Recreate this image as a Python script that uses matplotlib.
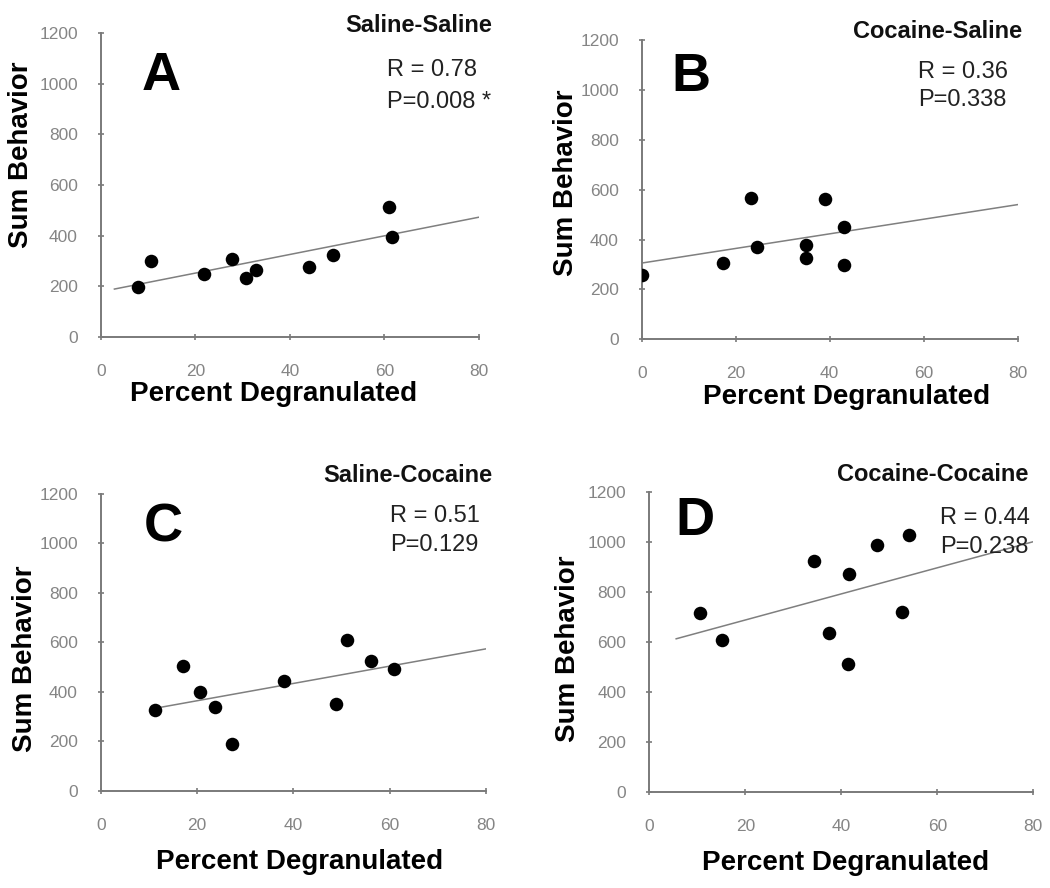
import numpy as np
import matplotlib
matplotlib.use("Agg")
import matplotlib.pyplot as plt

plt.rcParams['font.family'] = ['Liberation Sans', 'DejaVu Sans']

# ---- data ----
panel_letters = ["A", "B", "C", "D"]
conditions = ["Saline-Saline", "Cocaine-Saline", "Saline-Cocaine", "Cocaine-Cocaine"]
r_texts = ["R = 0.78", "R = 0.36", "R = 0.51", "R = 0.44"]
p_texts = ["P=0.008 *", "P=0.338", "P=0.129", "P=0.238"]

x_A = [7.8, 10.6, 21.8, 27.7, 30.7, 32.8, 44.1, 49.1, 61.0, 61.7]
y_A = [198, 299, 248, 307, 233, 265, 277, 323, 512, 396]

x_B = [0.1, 17.2, 23.2, 24.6, 34.9, 34.9, 39.0, 43.1, 43.1]
y_B = [257, 307, 568, 369, 378, 327, 561, 449, 297]

x_C = [11.3, 17.0, 20.6, 23.7, 27.2, 38.0, 48.9, 51.1, 56.1, 60.8]
y_C = [326, 504, 400, 338, 189, 445, 351, 608, 526, 492]

x_D = [10.6, 15.2, 34.3, 37.5, 41.5, 41.3, 47.5, 52.7, 54.0]
y_D = [714, 608, 922, 635, 871, 514, 986, 718, 1028]

# x-range of the fitted trend line in each panel
fit_start = [2.9, 0.0, 11.4, 5.6]
fit_end = [80, 80, 80, 80]

xticks = [0, 20, 40, 60, 80]
yticks = [0, 200, 400, 600, 800, 1000, 1200]

# ---- layout ----
W, H = 1050, 888
fig = plt.figure(figsize=(W / 100, H / 100), dpi=100)

# axes boxes in pixels: left, top, right, bottom
boxes = [(100.7, 33.3, 479.0, 336.7),
         (641.7, 40.0, 1017.7, 339.3),
         (100.7, 494.0, 486.0, 790.7),
         (649.3, 491.7, 1033.3, 792.3)]
xlabel_pos = [(0.458, -0.188), (0.545, -0.194), (0.517, -0.239), (0.51, -0.234)]
ylabel_pos = [(-0.211, 0.599), (-0.202, 0.524), (-0.196, 0.446), (-0.213, 0.479)]
cond_pos = [(1.034, 1.027), (1.011, 1.028), (1.017, 1.064), (0.987, 1.056)]
letter_pos = [(0.109, 0.859), (0.080, 0.877), (0.111, 0.887), (0.067, 0.903)]
rp_pos = [(0.757, 0.879, 0.775), (0.736, 0.894, 0.80), (0.751, 0.926, 0.828), (0.757, 0.911, 0.817)]

xs = [x_A, x_B, x_C, x_D]
ys = [y_A, y_B, y_C, y_D]

spine_col = "#7a7a7a"
tick_col = "#858585"

for i in range(4):
    l, t, r, b = boxes[i]
    ax = fig.add_axes([l / W, 1 - b / H, (r - l) / W, (b - t) / H])
    x = np.array(xs[i]); y = np.array(ys[i])
    ax.scatter(x, y, s=95, color="black", zorder=3, linewidths=0)
    slope, intercept = np.polyfit(x, y, 1)
    lx = np.array([fit_start[i], fit_end[i]])
    ax.plot(lx, slope * lx + intercept, color="#7f7f7f", lw=1.1, zorder=2)

    ax.set_xlim(0, 80)
    ax.set_ylim(0, 1200)
    ax.set_xticks(xticks)
    ax.set_yticks(yticks)
    for side in ("top", "right"):
        ax.spines[side].set_visible(False)
    for side in ("left", "bottom"):
        ax.spines[side].set_color(spine_col)
        ax.spines[side].set_linewidth(1.4)
    ax.tick_params(axis="both", direction="inout", length=5, width=1.2,
                   color=spine_col, labelcolor=tick_col, labelsize=12.5)
    ax.tick_params(axis="x", pad=17)
    ax.tick_params(axis="y", pad=14)

    ax.set_xlabel("Percent Degranulated", fontsize=20, fontweight="bold")
    ax.xaxis.set_label_coords(*xlabel_pos[i])
    ax.xaxis.label.set_va("center")
    ax.set_ylabel("Sum Behavior", fontsize=20, fontweight="bold")
    ax.yaxis.set_label_coords(*ylabel_pos[i])
    ax.yaxis.label.set_va("center")

    ax.text(cond_pos[i][0], cond_pos[i][1], conditions[i], transform=ax.transAxes,
            ha="right", va="center", fontsize=17, fontweight="bold", color="#111111")
    ax.text(letter_pos[i][0], letter_pos[i][1], panel_letters[i], transform=ax.transAxes,
            ha="left", va="center", fontsize=39, fontweight="bold", color="black")
    ax.text(rp_pos[i][0], rp_pos[i][1], r_texts[i], transform=ax.transAxes,
            ha="left", va="center", fontsize=17, color="#222222")
    ax.text(rp_pos[i][0], rp_pos[i][2], p_texts[i], transform=ax.transAxes,
            ha="left", va="center", fontsize=17, color="#222222")

fig.savefig("out.png", dpi=100)
